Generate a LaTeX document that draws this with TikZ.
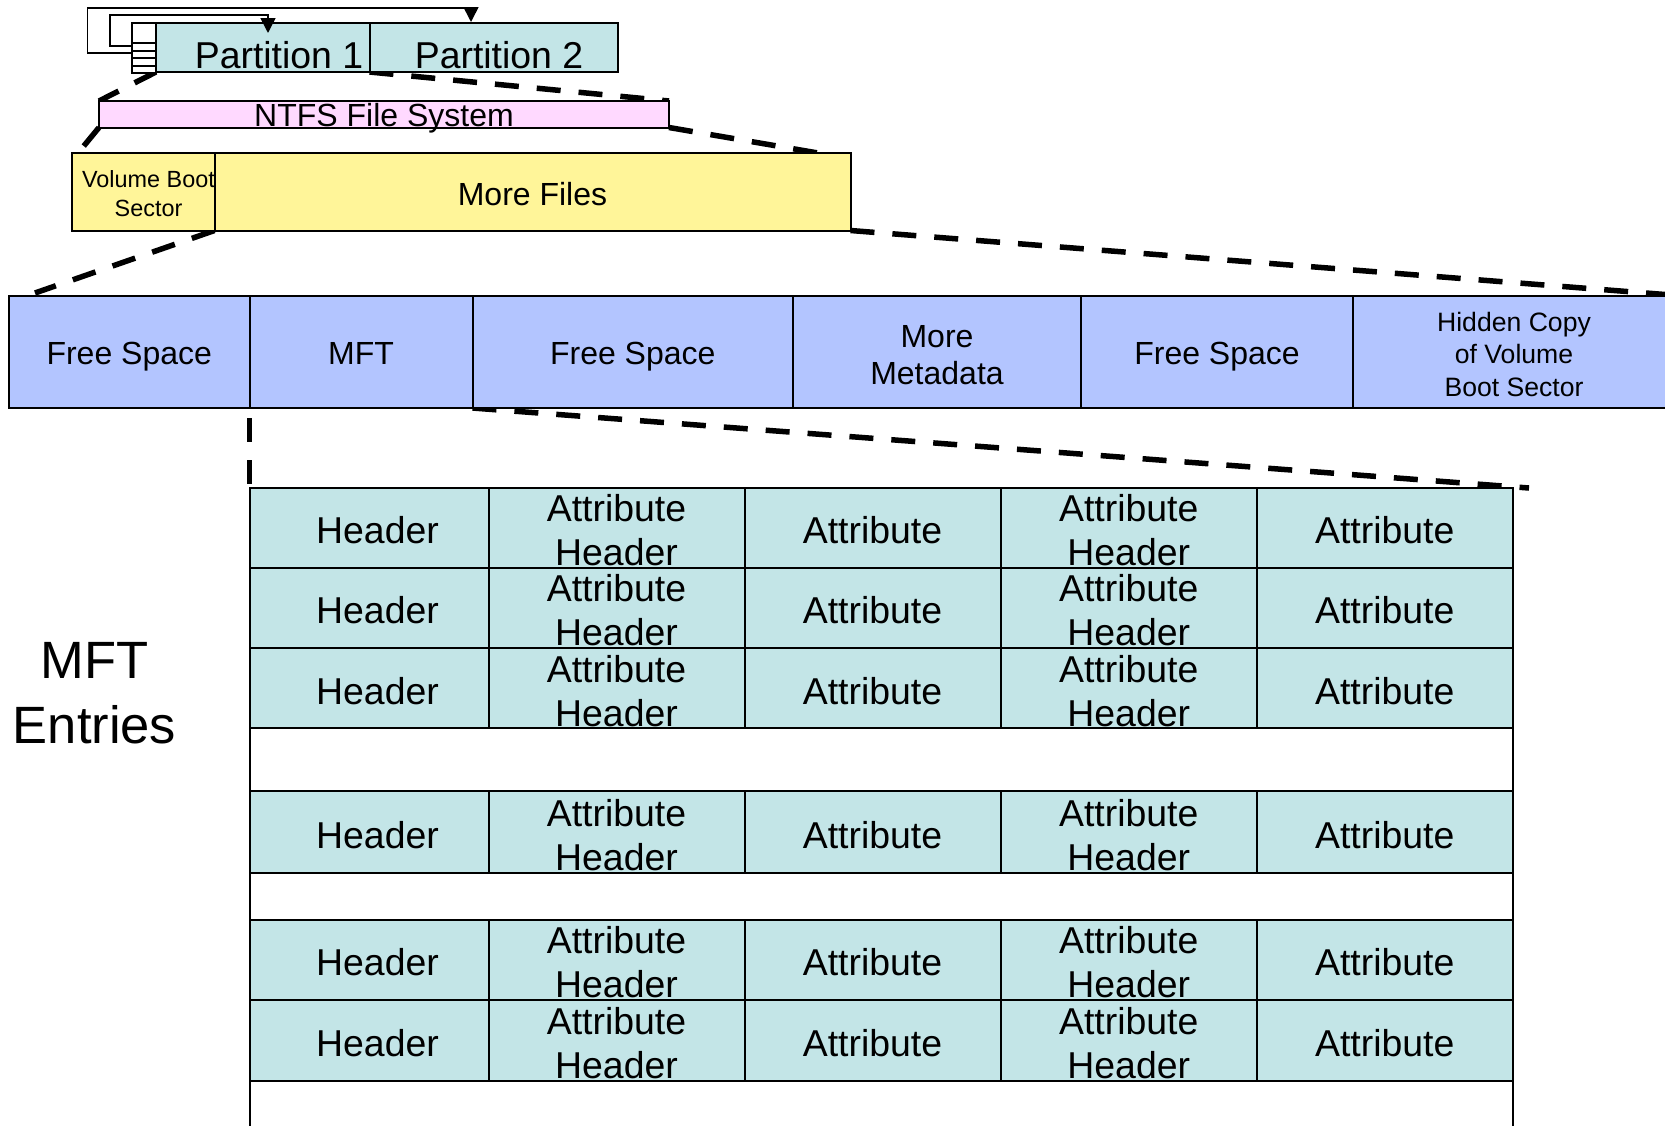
\documentclass[tikz,border=0pt]{standalone}
\usepackage{fontspec}
\setmainfont{Liberation Sans}
\usetikzlibrary{arrows.meta,backgrounds}
\definecolor{tealfill}{RGB}{195,229,231}
\definecolor{bluefill}{RGB}{179,197,255}
\definecolor{yellowfill}{RGB}{255,245,153}
\definecolor{pinkfill}{RGB}{255,217,255}
\tikzset{
  box/.style={draw=black, line width=2pt, anchor=north west, inner sep=0pt, outer sep=0pt, align=center},
  partbox/.style={box, fill=tealfill, minimum height=49pt},
  ntfsbox/.style={box, fill=pinkfill, minimum height=26.5pt},
  yellowbox/.style={box, fill=yellowfill, minimum height=77.5pt},
  bluebox/.style={box, fill=bluefill, minimum height=112pt, font=\fontsize{32}{37}\selectfont, text height=25pt, text depth=0pt},
  cell/.style={box, fill=tealfill, minimum height=80pt, font=\fontsize{37.4}{44}\selectfont, text height=32pt, text depth=0pt},
  headcell/.style={cell, execute at begin node=\hspace*{17pt}},
  twocell/.style={cell, text height=76pt},
  mbrline/.style={box, fill=white, minimum width=24pt},
  txt/.style={inner sep=0pt, align=center},
  bigdash/.style={line width=5.5pt, dash pattern=on 24pt off 18pt},
  link/.style={line width=1.6pt, -{Triangle[width=15pt,length=15pt]}}
}
\begin{document}
\begin{tikzpicture}[x=1pt,y=-1pt]
  \useasboundingbox (0,0) rectangle (1665,1125);

  %partitions
  \node[partbox, minimum width=213.5pt] (part1) at (156,23) {};
  \node[partbox, minimum width=248pt] (part2) at (369.5,23) {};
  \node[txt, font=\fontsize{37.4}{44}\selectfont] (part1text) at (279,55) {Partition 1};
  \node[txt, font=\fontsize{37.4}{44}\selectfont] (part2text) at (499,55) {Partition 2};
  \node[mbrline, minimum height=20pt] (mbr1) at (132,23) {};
  \node[mbrline, minimum height=8pt] (mbr2) at (132,43) {};
  \node[mbrline, minimum height=7pt] (mbr3) at (132,51) {};
  \node[mbrline, minimum height=8pt] (mbr4) at (132,58) {};
  \node[mbrline, minimum height=6.5pt] (mbr5) at (132,66) {};
  \coordinate (tip1) at (268,33);
  \coordinate (tip2) at (471,22);
  \draw[link] ([yshift=1.3pt]mbr2.west) -- ++(-22.3,0) |- (268,15) -- (tip1);
  \draw[link] ([yshift=1.8pt]mbr3.west) -- ++(-44.7,0) |- (471,8) -- (tip2);

  %file system
  \node[ntfsbox, minimum width=570pt] (ntfs) at (99,101) {};
  \node[txt, font=\fontsize{32}{37}\selectfont] (ntfstext) at (384,118) {NTFS File System};
  \node[yellowbox, minimum width=142.5pt] (vbs) at (72,153) {};
  \node[txt, font=\fontsize{23.4}{29}\selectfont] (vbstext) at (148.5,193.5) {Volume Boot\\Sector};
  \node[yellowbox, minimum width=636pt, font=\fontsize{32}{37}\selectfont, text height=27.5pt, text depth=0pt] (more) at (214.5,153) {More Files};

  %volume
  \node[bluebox, minimum width=240.5pt] (free1) at (9,296) {Free Space};
  \node[bluebox, minimum width=223pt] (mft) at (249.5,296) {MFT};
  \node[bluebox, minimum width=320.5pt] (free2) at (472.5,296) {Free Space};
  \node[bluebox, minimum width=288pt, text height=64pt] (meta) at (793,296) {More\\Metadata};
  \node[bluebox, minimum width=272pt] (free3) at (1081,296) {Free Space};
  \node[bluebox, minimum width=322pt, font=\fontsize{26.6}{32.4}\selectfont, text height=88pt] (copy) at (1353,296) {Hidden Copy\\of Volume\\Boot Sector};

  %mft entries
  \node[txt, font=\fontsize{52.5}{65}\selectfont] (entries) at (94.5,693) {MFT\\Entries};
  \node[box, fill=white, minimum width=1263pt, minimum height=700pt] (table) at (249.5,487.5) {};

  \node[headcell, minimum width=239pt] (h1) at (249.5,487.5) {Header};
  \node[twocell, minimum width=256pt] (ah1) at (488.5,487.5) {Attribute\\Header};
  \node[cell, minimum width=256pt] (a1) at (744.5,487.5) {Attribute};
  \node[twocell, minimum width=256.5pt] (bh1) at (1000.5,487.5) {Attribute\\Header};
  \node[cell, minimum width=255.5pt] (b1) at (1257,487.5) {Attribute};

  \node[headcell, minimum width=239pt] (h2) at (249.5,567.5) {Header};
  \node[twocell, minimum width=256pt] (ah2) at (488.5,567.5) {Attribute\\Header};
  \node[cell, minimum width=256pt] (a2) at (744.5,567.5) {Attribute};
  \node[twocell, minimum width=256.5pt] (bh2) at (1000.5,567.5) {Attribute\\Header};
  \node[cell, minimum width=255.5pt] (b2) at (1257,567.5) {Attribute};

  \node[headcell, minimum width=239pt] (h3) at (249.5,648) {Header};
  \node[twocell, minimum width=256pt] (ah3) at (488.5,648) {Attribute\\Header};
  \node[cell, minimum width=256pt] (a3) at (744.5,648) {Attribute};
  \node[twocell, minimum width=256.5pt] (bh3) at (1000.5,648) {Attribute\\Header};
  \node[cell, minimum width=255.5pt] (b3) at (1257,648) {Attribute};

  \node[headcell, minimum width=239pt, minimum height=82pt] (h4) at (249.5,791) {Header};
  \node[twocell, minimum width=256pt, minimum height=82pt] (ah4) at (488.5,791) {Attribute\\Header};
  \node[cell, minimum width=256pt, minimum height=82pt] (a4) at (744.5,791) {Attribute};
  \node[twocell, minimum width=256.5pt, minimum height=82pt] (bh4) at (1000.5,791) {Attribute\\Header};
  \node[cell, minimum width=255.5pt, minimum height=82pt] (b4) at (1257,791) {Attribute};

  \node[headcell, minimum width=239pt] (h5) at (249.5,919.5) {Header};
  \node[twocell, minimum width=256pt] (ah5) at (488.5,919.5) {Attribute\\Header};
  \node[cell, minimum width=256pt] (a5) at (744.5,919.5) {Attribute};
  \node[twocell, minimum width=256.5pt] (bh5) at (1000.5,919.5) {Attribute\\Header};
  \node[cell, minimum width=255.5pt] (b5) at (1257,919.5) {Attribute};

  \node[headcell, minimum width=239pt, minimum height=81pt] (h6) at (249.5,999.5) {Header};
  \node[twocell, minimum width=256pt, minimum height=81pt] (ah6) at (488.5,999.5) {Attribute\\Header};
  \node[cell, minimum width=256pt, minimum height=81pt] (a6) at (744.5,999.5) {Attribute};
  \node[twocell, minimum width=256.5pt, minimum height=81pt] (bh6) at (1000.5,999.5) {Attribute\\Header};
  \node[cell, minimum width=255.5pt, minimum height=81pt] (b6) at (1257,999.5) {Attribute};

  %zoom lines, under the boxes
  \coordinate (vbsend) at (78,153);
  \coordinate (ntfsend) at (818,153);
  \coordinate (freeend) at (35,293);
  \coordinate (blueend) at (1665,294.5);
  \coordinate (tableend) at (1529,488);
  \begin{scope}[on background layer]
    \draw[bigdash] (part1.south west) -- (ntfs.north west);
    \draw[bigdash] (part1.south east) -- (ntfs.north east);
    \draw[bigdash] (ntfs.south west) -- (vbsend);
    \draw[bigdash] (ntfs.south east) -- (ntfsend);
    \draw[bigdash] (more.south west) -- (freeend);
    \draw[bigdash] (more.south east) -- (blueend);
    \draw[bigdash, dash phase=32pt] (mft.south west) -- (h1.north west);
    \draw[bigdash] (mft.south east) -- (tableend);
  \end{scope}
\end{tikzpicture}
\end{document}
